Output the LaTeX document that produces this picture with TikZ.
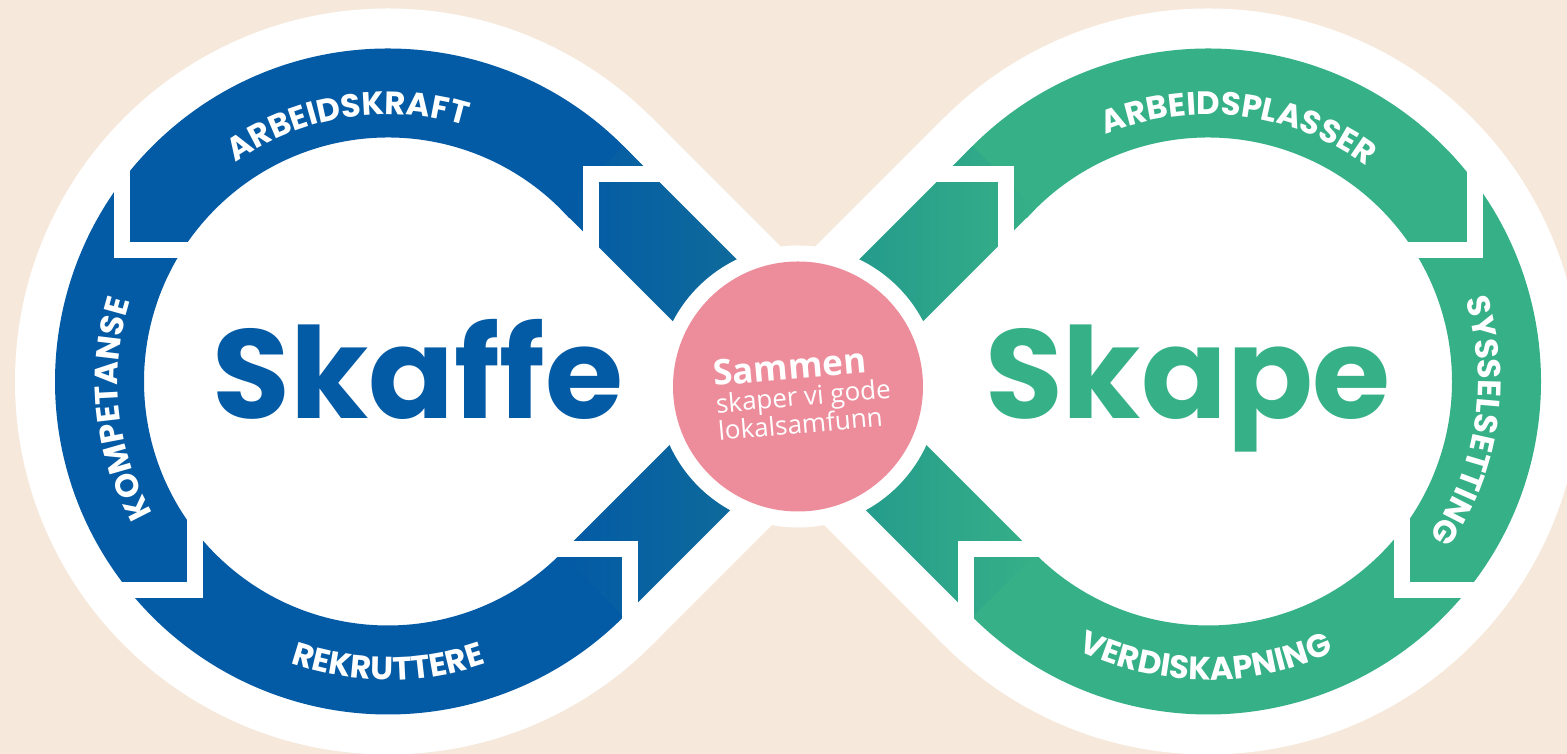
\documentclass[tikz,border=0pt]{standalone}
\usepackage{fontspec}
\setmainfont{Poppins}
\newfontfamily\labelfam{Poppins}[LetterSpace=3]
\newfontfamily\sloganfont{Open Sans}
\usepackage{tikz}
\usetikzlibrary{calc,decorations.text}
\usepackage{xcolor}
\definecolor{skbeige}{RGB}{246,233,220}
\definecolor{skblue}{RGB}{3,90,165}
\definecolor{skteal}{RGB}{18,112,152}
\definecolor{skgreen}{RGB}{53,176,135}
\definecolor{skgteal}{RGB}{30,148,142}
\definecolor{skpink}{RGB}{237,141,155}
\newcommand{\labelfont}{\labelfam\bfseries\fontsize{9.2}{11}\selectfont}
\tikzstyle{gapline} = [draw=white, line width=1.6mm, line join=miter]
\tikzstyle{labelarc} = [decorate, decoration={text along path, text align=center, text color=white}]
\tikzstyle{bigword} = [font=\bfseries\fontsize{36}{36}\selectfont, anchor=base]

\begin{document}
\begin{tikzpicture}
\clip (0,0) rectangle (15.67,7.54);
% Background
\fill[skbeige] (0,0) rectangle (15.67,7.54);
\coordinate (L) at (3.88,3.725);
\coordinate (R) at (12.08,3.725);
\coordinate (P) at (7.98,3.675);

% White outline
\fill[white] (L) circle (3.73);
\fill[white] (R) circle (3.73);
\fill[white] ($(L)+(45:3.73)$) -- (7.98,4.90) -- ($(R)+(135:3.73)$) -- (R)
  -- ($(R)+(225:3.73)$) -- (7.98,2.55) -- ($(L)+(315:3.73)$) -- (L) -- cycle;

% Rings
\fill[skblue] ($(L)+(42:3.33)$) arc[start angle=42, end angle=318, radius=3.33]
  -- ($(L)+(318:2.44)$) arc[start angle=318, end angle=42, radius=2.44] -- cycle;
\fill[skgreen] ($(R)+(138:3.33)$) arc[start angle=138, end angle=-138, radius=3.33]
  -- ($(R)+(-138:2.44)$) arc[start angle=-138, end angle=138, radius=2.44] -- cycle;

% Bands into the middle
\shade[left color=skblue, right color=skteal] ($(L)+(45:3.33)$) -- (7.98,4.335) -- (7.98,3.075) -- ($(L)+(45:2.44)$) -- cycle;
\shade[left color=skblue, right color=skteal] ($(L)+(-45:3.33)$) -- (7.98,3.115) -- (7.98,4.375) -- ($(L)+(-45:2.44)$) -- cycle;
\shade[left color=skgteal, right color=skgreen] ($(R)+(135:3.33)$) -- (7.98,4.335) -- (7.98,3.075) -- ($(R)+(135:2.44)$) -- cycle;
\shade[left color=skgteal, right color=skgreen] ($(R)+(225:3.33)$) -- (7.98,3.115) -- (7.98,4.375) -- ($(R)+(225:2.44)$) -- cycle;

% Cuts between the arrows
\draw[gapline] (6.655,5.795) -- (5.905,5.795) -- (5.905,4.945);
\draw[gapline] (1.215,5.935) -- (1.215,5.035) -- (2.015,5.035);
\draw[gapline] (1.095,1.635) -- (1.945,1.635) -- (1.945,2.385);
\draw[gapline] (6.30,1.295) -- (6.30,2.045) -- (5.45,2.045);
\draw[gapline] (9.305,5.795) -- (10.055,5.795) -- (10.055,4.945);
\draw[gapline] (14.745,5.935) -- (14.745,5.035) -- (13.945,5.035);
\draw[gapline] (14.865,1.635) -- (14.015,1.635) -- (14.015,2.385);
\draw[gapline] (9.66,1.295) -- (9.66,2.045) -- (10.51,2.045);

% Labels on the rings
\path[labelarc, decoration={text={|\labelfont|ARBEIDSKRAFT}}] ($(L)+(159:2.67)$) arc[start angle=159, end angle=39, radius=2.67];
\path[labelarc, decoration={text={|\labelfont|KOMPETANSE}}] ($(L)+(246:2.70)$) arc[start angle=246, end angle=126, radius=2.70];
\path[labelarc, decoration={text={|\labelfont|REKRUTTERE}}] ($(L)+(210:2.985)$) arc[start angle=210, end angle=330, radius=2.985];
\path[labelarc, decoration={text={|\labelfont|ARBEIDSPLASSER}}] ($(R)+(143:2.67)$) arc[start angle=143, end angle=23, radius=2.67];
\path[labelarc, decoration={text={|\labelfont|SYSSELSETTING}}] ($(R)+(51.3:2.70)$) arc[start angle=51.3, end angle=-68.7, radius=2.70];
\path[labelarc, decoration={text={|\labelfont|VERDISKAPNING}}] ($(R)+(209.5:2.985)$) arc[start angle=209.5, end angle=329.5, radius=2.985];

% Big words
\node[bigword, text=skblue] (skaffe) at (4.18,3.35) {Skaffe};
\node[bigword, text=skgreen] (skape) at (11.88,3.35) {Skape};

% Centre
\fill[white] (P) circle (1.41);
\node[circle, fill=skpink, minimum size=2.5cm, inner sep=0pt] (centre) at (P) {};
\node[rotate=5, align=left, text=white, font=\sloganfont\fontsize{7.4}{7.8}\selectfont] (slogan) at (8.03,3.61)
  {{\bfseries\fontsize{10}{10}\selectfont Sammen}\\skaper vi gode\\lokalsamfunn};
\end{tikzpicture}
\end{document}
